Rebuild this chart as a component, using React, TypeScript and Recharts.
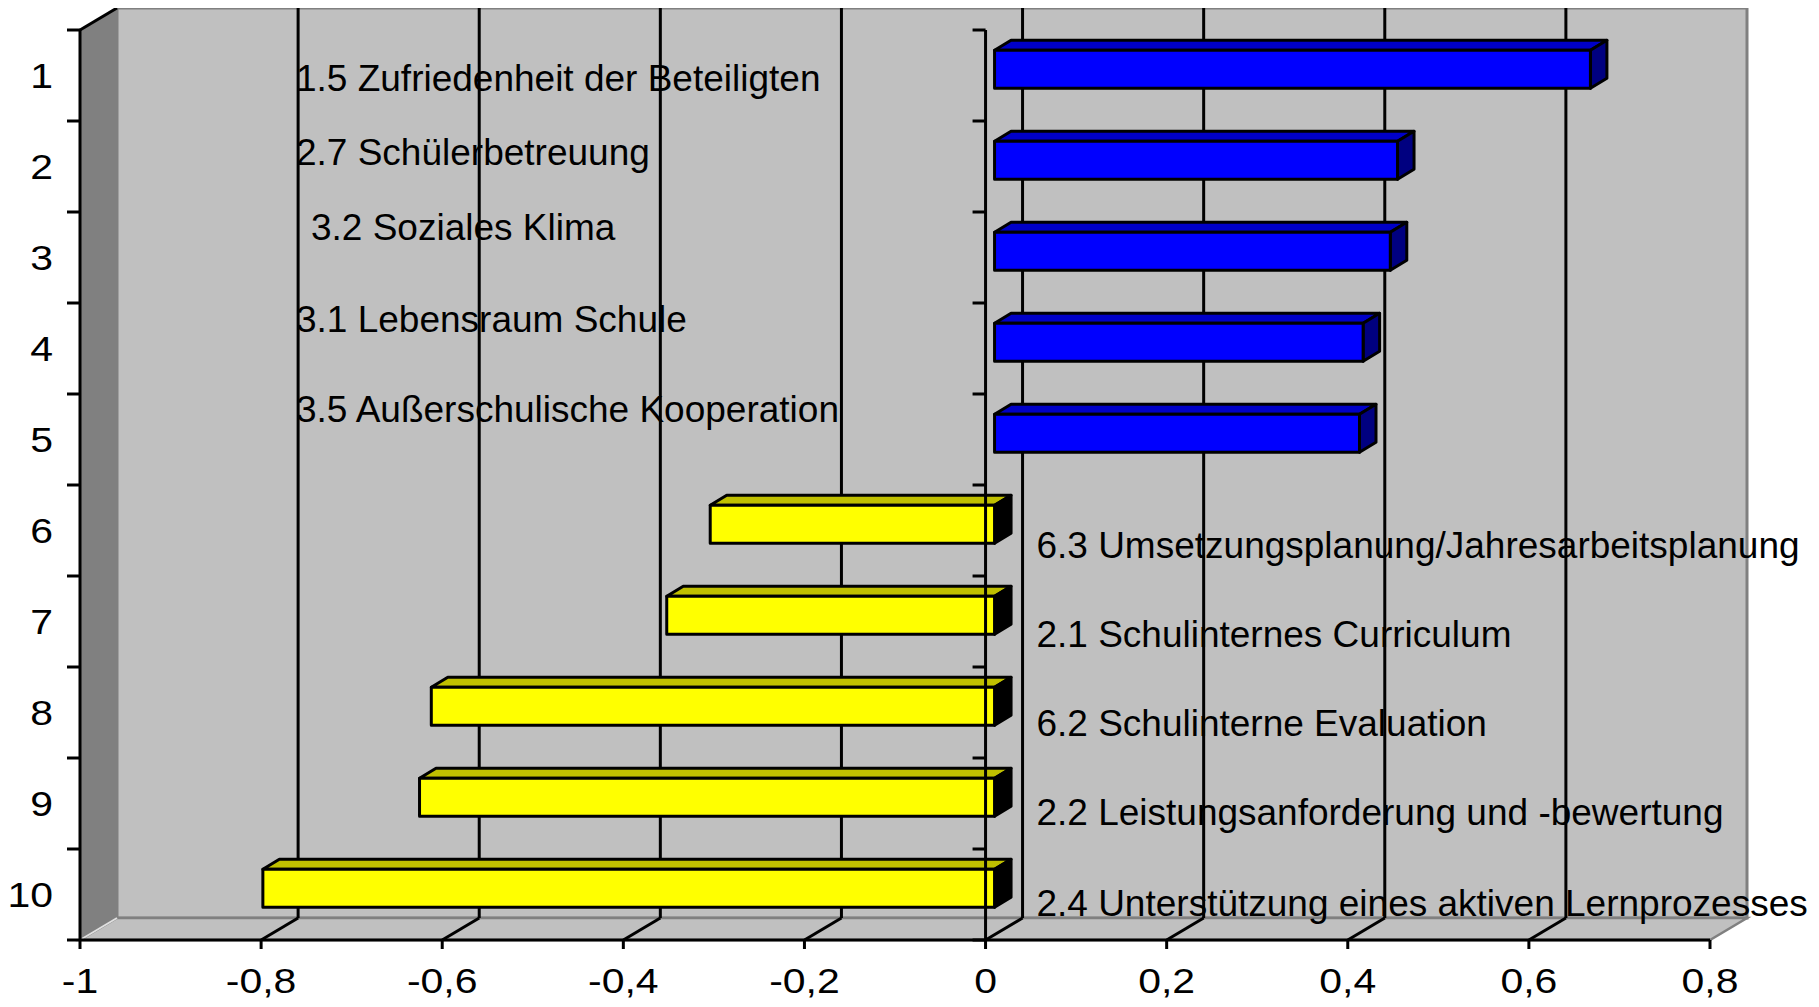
import React from 'react';
import { BarChart, Bar, XAxis, YAxis, ReferenceArea, ReferenceLine, LabelList } from 'recharts';

// ---------- data ----------
const categories = ['1', '2', '3', '4', '5', '6', '7', '8', '9', '10'];
const scores = [0.658, 0.445, 0.437, 0.407, 0.403, -0.314, -0.362, -0.622, -0.635, -0.808];
const areaLabels = [
  '1.5 Zufriedenheit der Beteiligten',
  '2.7 Schülerbetreuung',
  '3.2 Soziales Klima',
  '3.1 Lebensraum Schule',
  '3.5 Außerschulische Kooperation',
  '6.3 Umsetzungsplanung/Jahresarbeitsplanung',
  '2.1 Schulinternes Curriculum',
  '6.2 Schulinterne Evaluation',
  '2.2 Leistungsanforderung und -bewertung',
  '2.4 Unterstützung eines aktiven Lernprozesses',
];
const xTickValues = [-1, -0.8, -0.6, -0.4, -0.2, 0, 0.2, 0.4, 0.6, 0.8];
const gridValues = [-0.8, -0.6, -0.4, -0.2, 0, 0.2, 0.4, 0.6];
const xDomain = [-1, 0.8];

const rows = categories.map((c, i) => ({ cat: c, score: scores[i], label: areaLabels[i] }));

// ---------- layout / style ----------
const W = 1803;
const H = 991;
const DX = 37; // depth of the 3D walls
const DY = -22;
const OX = 9; // offset of bar front plane
const OY = -6.7;
const BDX = 16.5; // bar depth
const BDY = 10;
const FONT = '"Liberation Sans", Arial, Helvetica, sans-serif';
const LABEL_FONT = 37;
const TICK_FONT = 35;
const TICK_STRETCH = 1.17;
const LABEL_ANCHOR_POS = -0.7615; // value position where the labels of positive bars start
const LABEL_ANCHOR_NEG = 0.0562; // value position where the labels of negative bars start
const LABEL_NUDGE_Y = [14.5, -1.6, -17.7, -17.1, -18.2, 27.3, 24.6, 22.8, 20.7, 21.3];
const LABEL_NUDGE_X = [0, 0, 15, 0, 0, 0, 0, 0, 0, 0];

const fmt = (v: number) => String(v).replace('.', ',');

function Walls(p: any) {
  const { x, y, width: w, height: h } = p;
  const n = categories.length;
  const ticks = [];
  for (let i = 0; i <= n; i++) {
    const ty = y + (i * h) / n;
    ticks.push(<line key={i} x1={x - 13} y1={ty} x2={x} y2={ty} stroke="#000" strokeWidth={3} />);
  }
  return (
    <g>
      <rect x={x + DX} y={y + DY} width={w} height={h} fill="#C0C0C0" stroke="#808080" strokeWidth={3} />
      <polygon
        points={`${x},${y} ${x + DX},${y + DY} ${x + DX},${y + h + DY} ${x},${y + h}`}
        fill="#808080"
      />
      <polygon
        points={`${x},${y + h} ${x + DX},${y + h + DY} ${x + w + DX},${y + h + DY} ${x + w},${y + h}`}
        fill="#C0C0C0"
        stroke="#808080"
        strokeWidth={2.5}
      />
      <line x1={x} y1={y + h} x2={x + DX} y2={y + h + DY} stroke="#E0E0E0" strokeWidth={2} />
      <line x1={x} y1={y} x2={x + DX} y2={y + DY} stroke="#000" strokeWidth={3} />
      {ticks}
    </g>
  );
}

function BackGrid(p: any) {
  const { x1, y1, y2 } = p;
  const top = Math.min(y1, y2);
  const bot = Math.max(y1, y2);
  return (
    <g>
      <line x1={x1 + DX} y1={top + DY} x2={x1 + DX} y2={bot + DY} stroke="#000" strokeWidth={3} />
      <line x1={x1} y1={bot} x2={x1 + DX} y2={bot + DY} stroke="#000" strokeWidth={3} />
    </g>
  );
}

function ZeroAxis(p: any) {
  const { x1, y1, y2 } = p;
  const top = Math.min(y1, y2);
  const bot = Math.max(y1, y2);
  const n = categories.length;
  const ticks = [];
  for (let i = 0; i <= n; i++) {
    const ty = top + (i * (bot - top)) / n;
    ticks.push(<line key={i} x1={x1 - 13} y1={ty} x2={x1} y2={ty} stroke="#000" strokeWidth={3} />);
  }
  return (
    <g>
      <line x1={x1} y1={top} x2={x1} y2={bot} stroke="#000" strokeWidth={3} />
      {ticks}
    </g>
  );
}

function Box3D(p: any) {
  const { x, y, width, height, payload } = p;
  const left = width < 0 ? x + width : x;
  const w = Math.abs(width);
  const h = Math.abs(height);
  const fx = left + OX;
  const fy = y + OY;
  const pos = payload.score >= 0;
  const front = pos ? '#0000FF' : '#FFFF00';
  const topC = pos ? '#0000C8' : '#C0C000';
  const side = pos ? '#000080' : '#000000';
  return (
    <g stroke="#000" strokeWidth={3} strokeLinejoin="round">
      <polygon points={`${fx},${fy} ${fx + BDX},${fy - BDY} ${fx + w + BDX},${fy - BDY} ${fx + w},${fy}`} fill={topC} />
      <polygon
        points={`${fx + w},${fy} ${fx + w + BDX},${fy - BDY} ${fx + w + BDX},${fy + h - BDY} ${fx + w},${fy + h}`}
        fill={side}
      />
      <rect x={fx} y={fy} width={w} height={h} fill={front} />
    </g>
  );
}

function AreaLabel(p: any) {
  const vb = p.viewBox && p.viewBox.width !== undefined ? p.viewBox : p;
  const { x, y, width, height } = vb;
  const i = areaLabels.indexOf(p.value);
  if (i < 0) return null;
  const v = scores[i];
  const left = width < 0 ? x + width : x;
  const w = Math.abs(width);
  const ppu = w / Math.abs(v);
  const zeroX = v >= 0 ? left : left + w;
  const lx = zeroX + (v >= 0 ? LABEL_ANCHOR_POS : LABEL_ANCHOR_NEG) * ppu + LABEL_NUDGE_X[i];
  const ly = y + Math.abs(height) / 2 + LABEL_NUDGE_Y[i];
  return (
    <text x={lx} y={ly} fontFamily={FONT} fontSize={LABEL_FONT} fill="#000">
      {areaLabels[i]}
    </text>
  );
}

function XTick(p: any) {
  const { x, y, payload } = p;
  return (
    <g transform={`translate(${x},${y + 44}) scale(${TICK_STRETCH},1)`}>
      <text x={0} y={0} textAnchor="middle" fontFamily={FONT} fontSize={TICK_FONT} fill="#000">
        {fmt(payload.value)}
      </text>
    </g>
  );
}

function YTick(p: any) {
  const { x, y, payload } = p;
  return (
    <g transform={`translate(${x},${y}) scale(${TICK_STRETCH},1)`}>
      <text x={0} y={0} dy="0.36em" textAnchor="end" fontFamily={FONT} fontSize={TICK_FONT} fill="#000">
        {payload.value}
      </text>
    </g>
  );
}

export default function App() {
  return (
    <div style={{ width: W, height: H, background: '#fff' }}>
      <BarChart
        width={W}
        height={H}
        data={rows}
        layout="vertical"
        margin={{ top: 22, right: 101, bottom: 9, left: 12 }}
        style={{ overflow: 'visible' }}
      >
        <ReferenceArea x1={xDomain[0]} x2={xDomain[1]} shape={(p: any) => <Walls {...p} />} zIndex={-300} />
        {gridValues.map((g) => (
          <ReferenceLine key={g} x={g} shape={(p: any) => <BackGrid {...p} />} zIndex={-200} />
        ))}
        <XAxis
          type="number"
          domain={xDomain}
          ticks={xTickValues}
          interval={0}
          height={50}
          axisLine={{ stroke: '#000', strokeWidth: 3 }}
          tickLine={{ stroke: '#000', strokeWidth: 3 }}
          tickSize={9}
          tickMargin={0}
          tick={<XTick />}
          allowDataOverflow
        />
        <YAxis
          type="category"
          dataKey="cat"
          width={60}
          interval={0}
          axisLine={{ stroke: '#000', strokeWidth: 3 }}
          tickLine={false}
          tickSize={13}
          tickMargin={14}
          tick={<YTick />}
        />
        <Bar dataKey="score" barSize={38} isAnimationActive={false} shape={(p: any) => <Box3D {...p} />}>
          <LabelList dataKey="label" content={(p: any) => <AreaLabel {...p} />} />
        </Bar>
        <ReferenceLine x={0} shape={(p: any) => <ZeroAxis {...p} />} zIndex={600} />
      </BarChart>
    </div>
  );
}
